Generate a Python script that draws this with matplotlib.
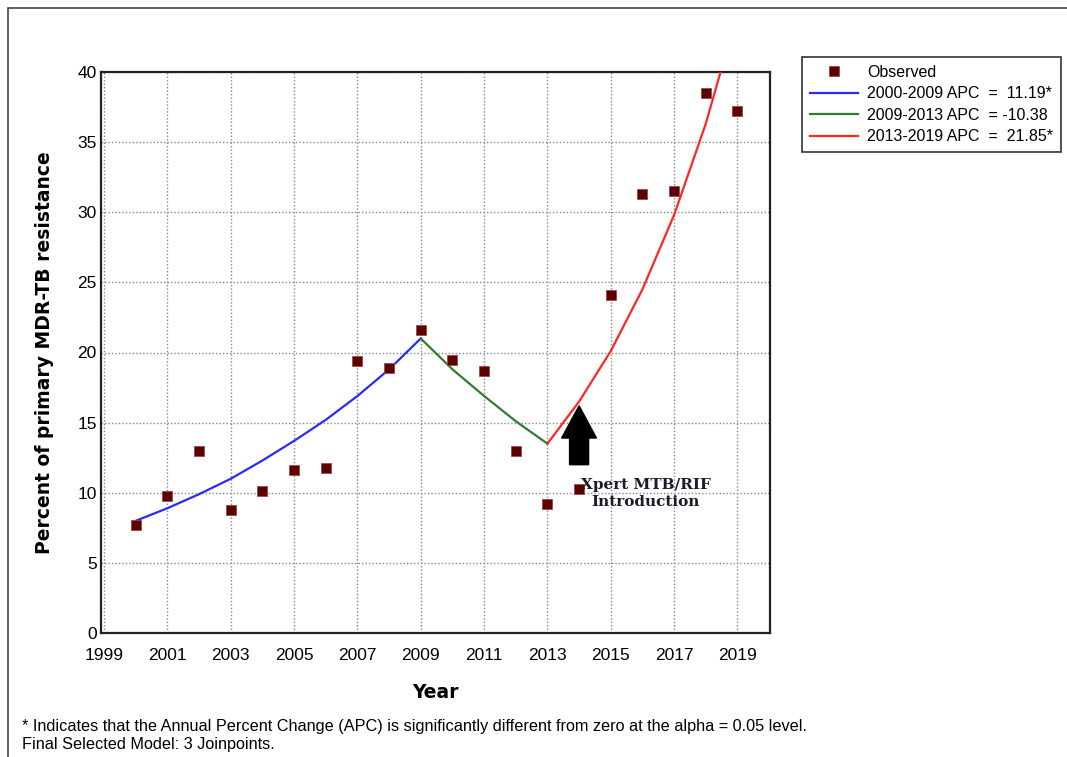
import numpy as np
import matplotlib
matplotlib.use("Agg")
import matplotlib.pyplot as plt
from matplotlib.patches import Rectangle

plt.rcParams['font.family'] = ['Liberation Sans', 'DejaVu Sans']

# observed percentages
years = [2000, 2001, 2002, 2003, 2004, 2005, 2006, 2007, 2008, 2009,
         2010, 2011, 2012, 2013, 2014, 2015, 2016, 2017, 2018, 2019]
observed = [7.7, 9.8, 13.0, 8.8, 10.1, 11.6, 11.8, 19.4, 18.9, 21.6,
            19.5, 18.7, 13.0, 9.2, 10.3, 24.1, 31.3, 31.5, 38.5, 37.2]

# joinpoint fitted values
seg1_years = [2000, 2001, 2002, 2003, 2004, 2005, 2006, 2007, 2008, 2009]
seg1_fit = [8.0, 8.9, 9.9, 11.0, 12.3, 13.7, 15.2, 16.9, 18.8, 21.0]
seg2_years = [2009, 2010, 2011, 2012, 2013]
seg2_fit = [21.0, 18.8, 16.9, 15.1, 13.5]
seg3_years = [2013, 2014, 2015, 2016, 2017, 2018, 2019]
seg3_fit = [13.5, 16.5, 20.1, 24.5, 29.8, 36.3, 44.2]

labels = ['Observed', '2000-2009 APC  =  11.19*', '2009-2013 APC  = -10.38',
          '2013-2019 APC  =  21.85*']
xticks = list(range(1999, 2020, 2))
yticks = list(range(0, 41, 5))

fig = plt.figure(figsize=(10.67, 7.57), dpi=100)
ax = fig.add_axes([101/1067, 1-633/757, (770-101)/1067, (633-72)/757])

l1, = ax.plot(seg1_years, seg1_fit, color='#2a2aff', lw=1.6, zorder=3)
l2, = ax.plot(seg2_years, seg2_fit, color='#2e7d32', lw=1.6, zorder=3)
l3, = ax.plot(seg3_years, seg3_fit, color='#ff2626', lw=1.6, zorder=3)
pts, = ax.plot(years, observed, 's', color='#5c0000', markersize=7.3,
               markeredgecolor='#9a4a4a', markeredgewidth=0.6, zorder=4, lw=0)

ax.set_xlim(1998.9, 2020.03)
ax.set_ylim(0, 40)
ax.set_xticks(xticks)
ax.set_yticks(yticks)
ax.tick_params(length=0, labelsize=12.5)
ax.tick_params(axis='x', pad=11)
ax.tick_params(axis='y', pad=3)
ax.grid(True, color='#888888', linestyle=(0, (1, 1.5)), linewidth=1)
ax.set_axisbelow(True)
for s in ax.spines.values():
    s.set_linewidth(1.6)
    s.set_color('#222222')

ax.set_xlabel('Year', family='DejaVu Sans', fontweight='bold', fontsize=13.5, labelpad=14)
ax.set_ylabel('Percent of primary MDR-TB resistance', family='DejaVu Sans',
              fontweight='bold', fontsize=13.5, labelpad=17)

# Xpert introduction arrow
ax.arrow(2014, 12.0, 0, 4.2, width=0.6, head_width=1.1, head_length=2.3,
         length_includes_head=True, color='black', zorder=5)
ax.text(2016.1, 9.95, 'Xpert MTB/RIF\nIntroduction', family='DejaVu Serif',
        fontweight='bold', fontsize=11, ha='center', va='center',
        linespacing=1.2, color='#1a1a2a', zorder=5)

leg = fig.legend([pts, l1, l2, l3], labels, loc='upper left',
                 bbox_to_anchor=(802/1067, 1-57/757), fontsize=11.5,
                 frameon=True, fancybox=False, edgecolor='black',
                 handlelength=3.0, handletextpad=0.6, labelspacing=0.4,
                 borderpad=0.5, borderaxespad=0)
leg.get_frame().set_linewidth(1.2)

fig.text(22/1067, 1-727/757, '* Indicates that the Annual Percent Change (APC) is significantly different from zero at the alpha = 0.05 level.',
         fontsize=11.7, va='center', ha='left')
fig.text(22/1067, 1-745/757, 'Final Selected Model: 3 Joinpoints.',
         fontsize=11.7, va='center', ha='left')

fig.patches.append(Rectangle((8/1067, -0.1), 1.1, 1.1 - 8/757, transform=fig.transFigure,
                             fill=False, edgecolor='#444444', lw=1.2))

fig.savefig('out.png', dpi=100)
